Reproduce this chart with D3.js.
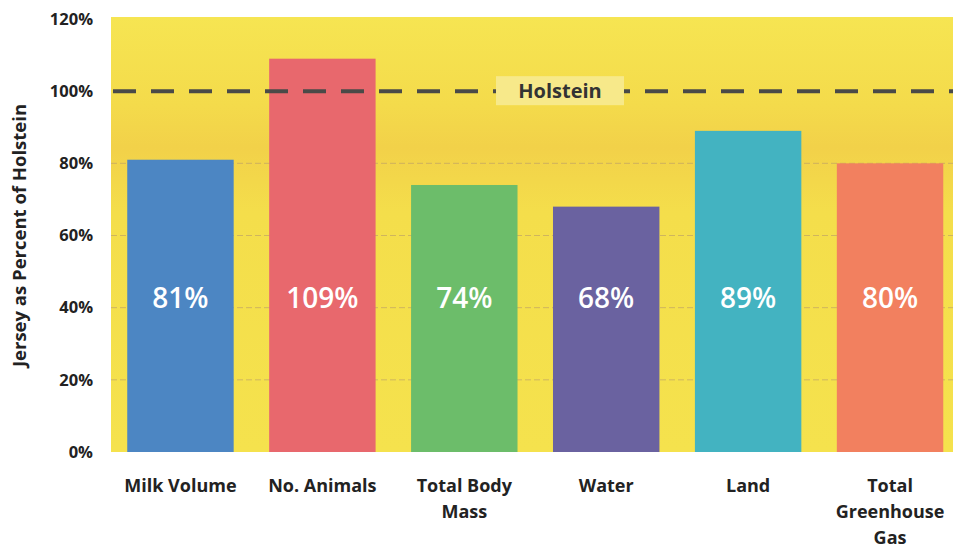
<!DOCTYPE html>
<html><head><meta charset="utf-8">
<script src="https://cdn.jsdelivr.net/npm/d3@7"></script>
<style>body{margin:0;background:#fff}svg{display:block}</style>
</head><body>
<svg id="c" width="953" height="549"></svg>
<script>
const categories = [["Milk Volume"],["No. Animals"],["Total Body","Mass"],["Water"],["Land"],["Total","Greenhouse","Gas"]];
const values = [0.81, 1.09, 0.74, 0.68, 0.89, 0.80];
const barColors = ["#4c86c3","#e8686d","#6cbd6a","#6a62a0","#43b3c1","#f2805f"];
const yTicks = [0, 0.2, 0.4, 0.6, 0.8, 1.0, 1.2];
const refValue = 1.0, refLabel = "Holstein";
const yTitle = "Jersey as Percent of Holstein";

const svg = d3.select("#c");
const x = d3.scaleBand().domain(d3.range(categories.length)).range([109.5, 961]).paddingInner(0.25).paddingOuter(0.125);
const y = d3.scaleLinear().domain([0, 1.2]).range([452, 19]);

const defs = svg.append("defs");
const g = defs.append("linearGradient").attr("id","bg").attr("x1",0).attr("y1",0).attr("x2",0).attr("y2",1);
g.append("stop").attr("offset","0%").attr("stop-color","#f6e552");
g.append("stop").attr("offset","20%").attr("stop-color","#f4db4b");
g.append("stop").attr("offset","30%").attr("stop-color","#f2d149");
g.append("stop").attr("offset","45%").attr("stop-color","#f4de4b");
g.append("stop").attr("offset","100%").attr("stop-color","#f5e24d");

svg.append("rect").attr("x",111).attr("y",y(1.2)-2).attr("width",953-111).attr("height",y(0)-y(1.2)+2).attr("fill","url(#bg)");

// gridlines
svg.append("g").selectAll("line").data(yTicks.filter(d=>d>0 && d<1.2 && d!==refValue)).join("line")
  .attr("x1",111).attr("x2",953).attr("y1",d=>y(d)).attr("y2",d=>y(d))
  .attr("stroke","#b89a6a").attr("stroke-width",1).attr("stroke-dasharray","6,3").attr("opacity",0.6);

// y axis
const yAxis = d3.axisLeft(y).tickValues(yTicks).tickFormat(d3.format(".0%")).tickSize(0).tickPadding(18);
const ya = svg.append("g").attr("transform","translate(111,0)").call(yAxis);
ya.select(".domain").remove();
ya.selectAll("text").attr("font-family","Open Sans, sans-serif").attr("font-weight",700).attr("font-size",16.5).attr("fill","#222");

// bars
svg.append("g").selectAll("rect").data(values).join("rect")
  .attr("x",(d,i)=>x(i)).attr("width",x.bandwidth())
  .attr("y",d=>y(d)).attr("height",d=>y(0)-y(d)).attr("fill",(d,i)=>barColors[i]);

// value labels
svg.append("g").selectAll("text").data(values).join("text")
  .attr("x",(d,i)=>x(i)+x.bandwidth()/2).attr("y",y(0.40))
  .attr("text-anchor","middle").attr("font-family","Open Sans, sans-serif").attr("font-weight",600)
  .attr("font-size",28).attr("fill","#fff").text(d=>Math.round(d*100)+"%");

// reference line
svg.append("line").attr("x1",113).attr("x2",953).attr("y1",y(refValue)).attr("y2",y(refValue))
  .attr("stroke","#4a4a48").attr("stroke-width",4).attr("stroke-dasharray","23,15");
const lx = 560;
svg.append("rect").attr("x",lx-64).attr("y",y(refValue)-15).attr("width",128).attr("height",29).attr("fill","#f7e98a");
svg.append("text").attr("x",lx).attr("y",y(refValue)+7).attr("text-anchor","middle")
  .attr("font-family","Open Sans, sans-serif").attr("font-weight",700).attr("font-size",20).attr("fill","#333").text(refLabel);

// x labels
const xl = svg.append("g").selectAll("text").data(categories).join("text")
  .attr("x",(d,i)=>x(i)+x.bandwidth()/2).attr("y",492).attr("text-anchor","middle")
  .attr("font-family","Open Sans, sans-serif").attr("font-weight",700).attr("font-size",18).attr("fill","#222");
xl.each(function(d){
  const t = d3.select(this);
  d.forEach((line,j)=>t.append("tspan").attr("x",t.attr("x")).attr("dy",j===0?0:26).text(line));
});

// y title
svg.append("text").attr("transform","translate(26,"+y(0.60)+") rotate(-90)").attr("text-anchor","middle")
  .attr("font-family","Open Sans, sans-serif").attr("font-weight",700).attr("font-size",18.5).attr("fill","#222").text(yTitle);
</script>
</body></html>
